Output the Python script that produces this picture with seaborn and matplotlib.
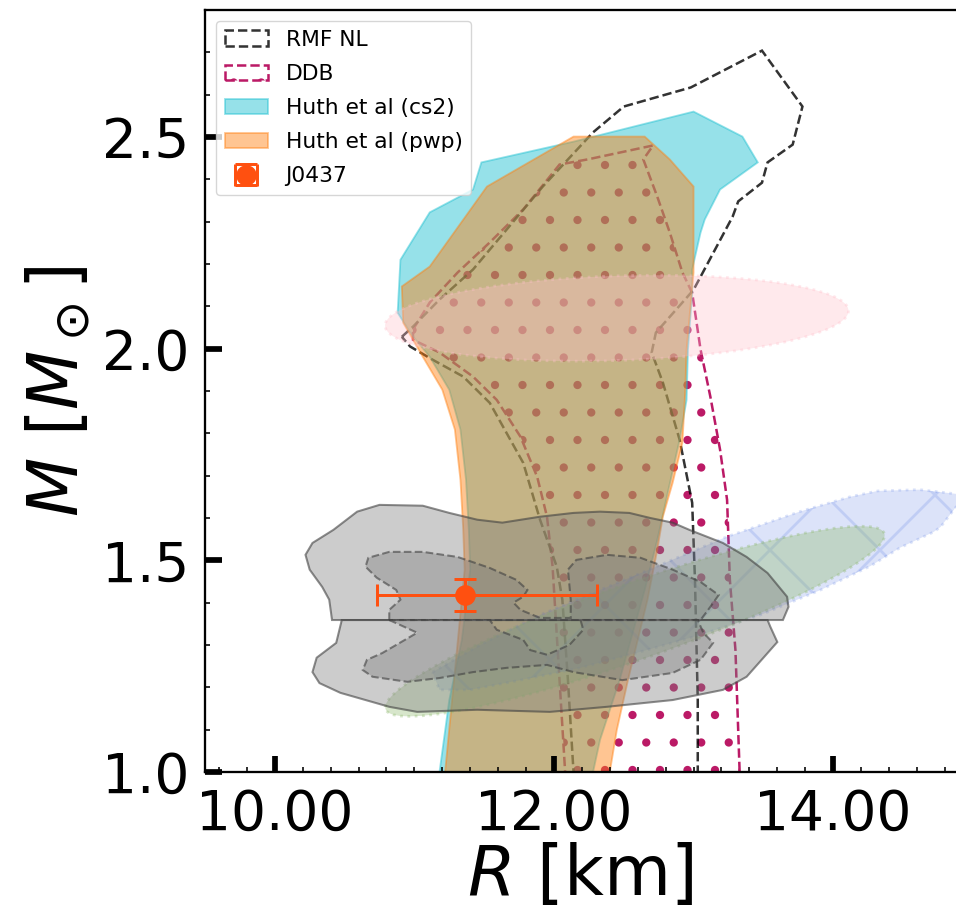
import numpy as np
import matplotlib
matplotlib.use("Agg")
import matplotlib.pyplot as plt
from matplotlib.patches import Polygon, Ellipse
from matplotlib.ticker import MultipleLocator, FormatStrFormatter
import seaborn as sns

# Mass-radius regions (R in km, M in Msun)
rmf_r = [10.91, 10.99, 11.18, 11.42, 11.66, 11.92, 12.28, 12.50, 12.98, 13.49, 13.78, 13.71,
         13.53, 13.49, 13.32, 13.28, 13.00, 12.73, 12.70, 12.78, 12.90, 12.99, 13.01, 13.03,
         13.03, 12.15, 12.14, 12.10, 12.06, 12.02, 11.90, 11.78, 11.54, 11.35, 11.13, 10.97]
rmf_m = [2.028, 2.052, 2.116, 2.187, 2.281, 2.383, 2.511, 2.572, 2.617, 2.704, 2.572, 2.482,
         2.440, 2.392, 2.348, 2.312, 2.139, 2.038, 1.991, 1.920, 1.785, 1.636, 1.454, 1.170,
         0.957, 0.957, 1.000, 1.217, 1.407, 1.485, 1.596, 1.730, 1.872, 1.934, 1.974, 2.005]

ddb_r = [10.99, 11.11, 11.31, 11.54, 11.78, 12.04, 12.24, 12.71, 12.64, 12.74, 12.83, 12.92,
         12.99, 13.05, 13.12, 13.19, 13.24, 13.26, 13.30, 13.33, 13.34, 12.09, 12.08, 11.99,
         11.95, 11.88, 11.76, 11.59, 11.42, 11.18, 10.99]
ddb_m = [2.045, 2.109, 2.180, 2.251, 2.329, 2.435, 2.447, 2.480, 2.447, 2.359, 2.274, 2.180,
         2.132, 1.998, 1.887, 1.761, 1.643, 1.454, 1.288, 1.000, 0.957, 0.957, 1.000, 1.485,
         1.603, 1.697, 1.792, 1.879, 1.934, 1.991, 2.021]

cs2_r = [11.48, 12.14, 13.00, 13.35, 13.46, 13.19, 13.08, 13.05, 12.99, 12.99, 12.96, 12.95,
         12.90, 12.82, 12.74, 12.65, 12.55, 12.47, 12.33, 12.28, 12.27, 11.16, 11.18, 11.25,
         11.34, 11.40, 11.39, 11.37, 11.33, 11.25, 11.11, 10.98, 10.88, 10.90, 11.11, 11.42]
cs2_m = [2.440, 2.489, 2.560, 2.501, 2.440, 2.376, 2.305, 2.274, 2.187, 2.132, 1.998, 1.879,
         1.785, 1.667, 1.548, 1.430, 1.312, 1.217, 1.076, 1.000, 0.957, 0.957, 1.000, 1.170,
         1.312, 1.478, 1.572, 1.690, 1.809, 1.903, 1.981, 2.033, 2.085, 2.210, 2.322, 2.376]

pwp_r = [12.14, 12.65, 12.83, 13.00, 13.00, 12.95, 12.94, 12.92, 12.85, 12.78, 12.74, 12.67,
         12.60, 12.53, 12.45, 12.40, 12.39, 11.21, 11.22, 11.27, 11.36, 11.35, 11.33, 11.29,
         11.20, 11.06, 10.92, 10.91, 11.11, 11.52]
pwp_m = [2.501, 2.501, 2.447, 2.383, 2.180, 1.998, 1.896, 1.778, 1.683, 1.603, 1.525, 1.407,
         1.312, 1.217, 1.099, 1.000, 0.957, 0.957, 1.000, 1.170, 1.478, 1.572, 1.690, 1.809,
         1.903, 1.981, 2.061, 2.147, 2.194, 2.383]

# elongated hatched constraint (blue)
blue_r = [11.13, 11.47, 11.90, 12.33, 12.76, 13.24, 13.76, 14.12, 14.32, 14.62, 14.88, 14.98,
          14.88, 14.77, 14.72, 14.48, 14.27, 13.91, 13.48, 13.05, 12.62, 12.19, 11.76, 11.40, 11.18]
blue_m = [1.236, 1.300, 1.371, 1.430, 1.489, 1.556, 1.615, 1.650, 1.664, 1.667, 1.657, 1.643,
          1.626, 1.579, 1.567, 1.530, 1.487, 1.430, 1.371, 1.324, 1.284, 1.246, 1.217, 1.194, 1.194]

# gray posterior contours (outer / inner, upper / lower halves)
out_up_r = [10.41, 10.39, 10.34, 10.25, 10.22, 10.27, 10.42, 10.59, 10.75, 11.06, 11.25, 11.45,
            11.63, 11.90, 12.14, 12.33, 12.54, 12.69, 12.85, 12.97, 13.21, 13.38, 13.53, 13.67,
            13.68, 13.64]
out_up_m = [1.359, 1.407, 1.437, 1.478, 1.513, 1.541, 1.572, 1.615, 1.631, 1.629, 1.612, 1.596,
            1.589, 1.603, 1.612, 1.615, 1.612, 1.600, 1.589, 1.572, 1.541, 1.508, 1.470, 1.414,
            1.390, 1.359]
out_lo_r = [10.48, 10.44, 10.30, 10.27, 10.32, 10.47, 10.82, 11.02, 11.45, 11.97, 12.38, 12.85,
            13.21, 13.38, 13.60, 13.55, 13.53]
out_lo_m = [1.359, 1.305, 1.270, 1.236, 1.210, 1.187, 1.154, 1.142, 1.147, 1.142, 1.154, 1.170,
            1.194, 1.225, 1.307, 1.343, 1.359]
in_up_r = [10.82, 10.82, 10.90, 10.87, 10.73, 10.65, 10.67, 10.82, 11.06, 11.31, 11.54, 11.73,
           11.81, 11.78, 11.71, 11.76, 11.90, 12.12, 12.12, 12.10, 12.16, 12.38, 12.62, 12.85,
           13.05, 13.18, 13.12, 13.05]
in_up_m = [1.359, 1.383, 1.407, 1.430, 1.459, 1.485, 1.506, 1.520, 1.520, 1.508, 1.482, 1.454,
           1.430, 1.414, 1.400, 1.383, 1.364, 1.364, 1.407, 1.478, 1.501, 1.513, 1.506, 1.478,
           1.449, 1.418, 1.390, 1.359]
in_lo_r = [10.82, 11.02, 10.77, 10.66, 10.63, 10.70, 10.95, 11.18, 11.42, 11.66, 11.95, 12.14,
           12.49, 12.85, 13.05, 13.14, 13.07, 13.03, 12.19, 12.21, 12.11, 11.95, 11.83, 11.78,
           11.59, 11.54]
in_lo_m = [1.359, 1.329, 1.281, 1.265, 1.241, 1.225, 1.213, 1.222, 1.236, 1.246, 1.253, 1.236,
           1.217, 1.234, 1.265, 1.305, 1.329, 1.359, 1.359, 1.336, 1.300, 1.277, 1.288, 1.312,
           1.336, 1.359]

# ellipse constraints: centre (R, M), full width (km), full height (Msun), tilt (deg)
pink_ell = (12.45, 2.072, 3.32, 0.20, 0.6)
green_ell = (12.58, 1.356, 3.60, 0.19, 6.5)

# PSR J0437-4715
j0437_r, j0437_m = 11.36, 1.418
j0437_r_err = [[0.63], [0.95]]
j0437_m_err = 0.037

sns.set_theme(style="ticks", rc={
    "axes.edgecolor": "black", "text.color": "black", "axes.labelcolor": "black",
    "xtick.color": "black", "ytick.color": "black", "axes.grid": False,
})
plt.rcParams["hatch.linewidth"] = 0.6
plt.rcParams["font.family"] = ["DejaVu Sans"]

DPI = 330
fig = plt.figure(figsize=(956 / DPI, 912 / DPI), dpi=DPI)
ax = fig.add_axes([205 / 956, 1 - 772 / 912, 751 / 956, 762 / 912])


def region(r, m, **kw):
    patch = Polygon(np.column_stack([r, m]), closed=True, **kw)
    ax.add_patch(patch)
    return patch


ddb = region(ddb_r, ddb_m, fill=False, edgecolor="#bb1a66", hatch="..", ls="--",
             lw=0.55, zorder=1, label="DDB")
rmf = region(rmf_r, rmf_m, fill=False, edgecolor="black", ls="--", lw=0.55,
             alpha=0.8, zorder=1.5, label="RMF NL")
cs2 = region(cs2_r, cs2_m, facecolor="tab:cyan", edgecolor="tab:cyan", alpha=0.45,
             lw=0.4, zorder=2, label="Huth et al (cs2)")
pwp = region(pwp_r, pwp_m, facecolor="tab:orange", edgecolor="tab:orange", alpha=0.45,
             lw=0.4, zorder=3, label="Huth et al (pwp)")

cx, cy, w, h, ang = pink_ell
ax.add_patch(Ellipse((cx, cy), w, h, angle=ang, facecolor="pink", edgecolor="pink",
                     alpha=0.35, ls=":", lw=0.6, zorder=4))
region(blue_r, blue_m, facecolor="royalblue", edgecolor="royalblue", alpha=0.18,
       hatch="x", ls=":", lw=0.6, zorder=4.5)
cx, cy, w, h, ang = green_ell
ax.add_patch(Ellipse((cx, cy), w, h, angle=ang, facecolor="#8db86b", edgecolor="#8db86b",
                     alpha=0.35, ls=":", lw=0.6, zorder=5))

for r, m in [(out_up_r, out_up_m), (out_lo_r, out_lo_m)]:
    region(r, m, facecolor=(0.5, 0.5, 0.5, 0.4), edgecolor=(0.25, 0.25, 0.25, 0.6),
           lw=0.45, zorder=6)
for r, m in [(in_up_r, in_up_m), (in_lo_r, in_lo_m)]:
    region(r, m, facecolor=(0.5, 0.5, 0.5, 0.4), edgecolor=(0.25, 0.25, 0.25, 0.6),
           lw=0.45, ls="--", zorder=6.5)

j0437 = ax.errorbar(j0437_r, j0437_m, xerr=j0437_r_err, yerr=j0437_m_err, fmt="o",
                    color="#ff5010", ms=3.5, lw=0.65, capsize=2.5, capthick=0.65,
                    zorder=10, label="J0437")

ax.set_xlim(9.5, 14.88)
ax.set_ylim(1.0, 2.8)
ax.xaxis.set_major_locator(MultipleLocator(2))
ax.xaxis.set_minor_locator(MultipleLocator(0.2))
ax.xaxis.set_major_formatter(FormatStrFormatter("%.2f"))
ax.yaxis.set_major_locator(MultipleLocator(0.5))
ax.yaxis.set_minor_locator(MultipleLocator(0.1))
ax.yaxis.set_major_formatter(FormatStrFormatter("%.1f"))
ax.tick_params(which="major", direction="in", length=3.6, width=1.25, labelsize=12, pad=3.5)
ax.tick_params(which="minor", direction="in", length=1.1, width=0.35)

# ticks and spines sit above the filled regions
ax.xaxis.set_zorder(20)
ax.yaxis.set_zorder(20)
for side in ["left", "bottom", "top"]:
    ax.spines[side].set_linewidth(0.5)
    ax.spines[side].set_color("black")
    ax.spines[side].set_zorder(20)
ax.spines["right"].set_visible(False)

ax.set_xlabel(r"$R$ [km]", fontsize=15, labelpad=0)
ax.set_ylabel(r"$M$ [$M_\odot$]", fontsize=15, labelpad=2)

leg = ax.legend(handles=[rmf, ddb, cs2, pwp, j0437], loc="upper left", fontsize=4.75,
                framealpha=0.8, edgecolor="0.8", fancybox=True, labelspacing=0.65)
leg.get_frame().set_linewidth(0.3)
leg.set_zorder(30)

fig.savefig("out.png", dpi=DPI)
